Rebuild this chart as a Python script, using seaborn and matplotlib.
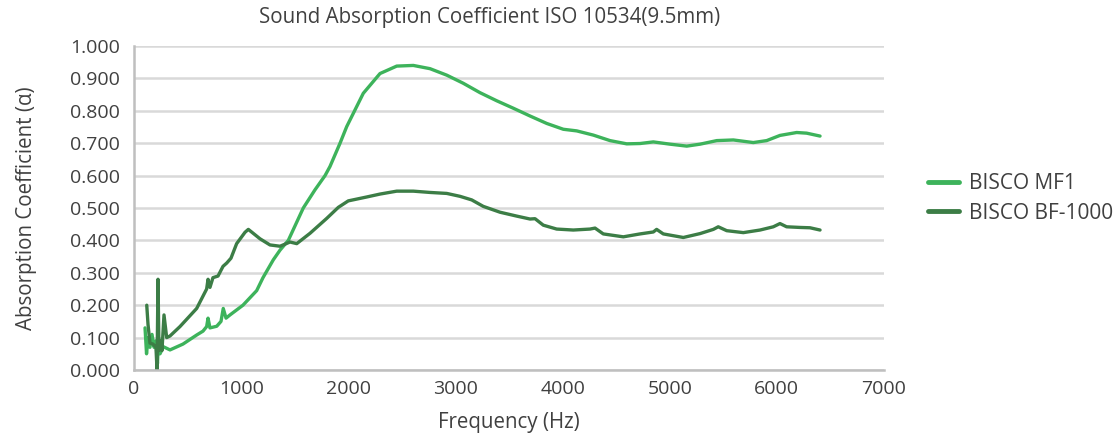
import numpy as np
import pandas as pd
import matplotlib
matplotlib.use("Agg")
import matplotlib.pyplot as plt
import seaborn as sns

# ---- data ----
mf1_freq = [103, 117, 131, 149, 168, 187, 205, 219, 229, 243, 273, 336, 457, 585, 644, 678, 691, 709,
            772, 812, 833, 859, 896, 1017, 1145, 1204, 1300, 1363, 1440, 1580, 1689, 1783, 1829, 1923,
            1985, 2140, 2296, 2452, 2607, 2763, 2919, 3073, 3229, 3385, 3540, 3696, 3852, 4007, 4132,
            4287, 4443, 4599, 4723, 4847, 5003, 5159, 5283, 5439, 5594, 5780, 5905, 6029, 6185, 6278, 6403]
mf1_alpha = [0.13, 0.05, 0.10, 0.07, 0.11, 0.07, 0.09, 0.02, 0.10, 0.05, 0.072, 0.062, 0.08, 0.108, 0.12,
             0.134, 0.16, 0.13, 0.135, 0.15, 0.19, 0.16, 0.17, 0.20, 0.245, 0.285, 0.34, 0.37, 0.40, 0.50,
             0.556, 0.60, 0.628, 0.70, 0.751, 0.854, 0.915, 0.938, 0.94, 0.93, 0.91, 0.885, 0.856, 0.831,
             0.808, 0.784, 0.761, 0.743, 0.738, 0.725, 0.708, 0.698, 0.699, 0.704, 0.697, 0.691, 0.697,
             0.708, 0.71, 0.702, 0.708, 0.724, 0.733, 0.731, 0.722]

bf_freq = [119, 131, 149, 177, 205, 215, 224, 233, 252, 261, 280, 305, 336, 429, 585, 678, 691, 709, 737,
           784, 831, 865, 905, 958, 1036, 1067, 1101, 1176, 1269, 1363, 1456, 1519, 1643, 1799, 1907, 2000,
           2172, 2296, 2452, 2607, 2763, 2919, 3043, 3152, 3260, 3416, 3572, 3696, 3743, 3820, 3945, 4100,
           4256, 4303, 4380, 4567, 4723, 4847, 4878, 4940, 5127, 5283, 5407, 5453, 5532, 5687, 5843, 5967,
           6029, 6091, 6216, 6309, 6403]
bf_alpha = [0.20, 0.14, 0.083, 0.08, 0.07, 0.0, 0.28, 0.06, 0.09, 0.06, 0.17, 0.10, 0.105, 0.134, 0.19,
            0.25, 0.28, 0.255, 0.285, 0.29, 0.32, 0.33, 0.345, 0.39, 0.425, 0.434, 0.425, 0.405, 0.386,
            0.382, 0.395, 0.39, 0.422, 0.468, 0.502, 0.522, 0.534, 0.543, 0.552, 0.552, 0.548, 0.545,
            0.536, 0.525, 0.505, 0.487, 0.475, 0.466, 0.467, 0.447, 0.435, 0.432, 0.435, 0.438, 0.42,
            0.411, 0.42, 0.426, 0.434, 0.42, 0.409, 0.421, 0.434, 0.442, 0.43, 0.424, 0.432, 0.442, 0.452,
            0.442, 0.44, 0.439, 0.432]

series_names = ["BISCO MF1", "BISCO BF-1000"]
colors = ["#3DB35B", "#3C7D46"]

title = "Sound Absorption Coefficient ISO 10534(9.5mm)"
x_label = "Frequency (Hz)"
y_label = "Absorption Coefficient (\u03b1)"
x_ticks = [0, 1000, 2000, 3000, 4000, 5000, 6000, 7000]
y_ticks = [0.0, 0.1, 0.2, 0.3, 0.4, 0.5, 0.6, 0.7, 0.8, 0.9, 1.0]

df = pd.concat([
    pd.DataFrame({"Frequency": mf1_freq, "Alpha": mf1_alpha, "Series": series_names[0]}),
    pd.DataFrame({"Frequency": bf_freq, "Alpha": bf_alpha, "Series": series_names[1]}),
], ignore_index=True)

sns.set_theme(style="white")
plt.rcParams["font.family"] = ["Open Sans", "DejaVu Sans"]
txt = "#404040"

fig = plt.figure(figsize=(11.18, 4.40), dpi=100)
ax = fig.add_axes([134 / 1118, 70 / 440, 750 / 1118, 324 / 440])

sns.lineplot(data=df, x="Frequency", y="Alpha", hue="Series", palette=colors,
             hue_order=series_names, linewidth=2.4, sort=False, estimator=None, ax=ax)

ax.set_xlim(0, 7000)
ax.set_ylim(0, 1.0)
ax.set_xticks(x_ticks)
ax.set_yticks(y_ticks)
ax.set_xticklabels([str(t) for t in x_ticks], fontsize=14, color=txt)
ax.set_yticklabels([f"{t:.3f}" for t in y_ticks], fontsize=14, color=txt)
ax.tick_params(axis="x", length=0, pad=7)
ax.tick_params(axis="y", length=0, pad=10)
ax.yaxis.grid(True, color="#d9d9d9", linewidth=1.8)
ax.xaxis.grid(False)
ax.set_axisbelow(True)
for s in ["top", "right"]:
    ax.spines[s].set_visible(False)
for s in ["left", "bottom"]:
    ax.spines[s].set_color("#bfbfbf")
    ax.spines[s].set_linewidth(1.8)

ax.set_xlabel(x_label, fontsize=14.8, color=txt, labelpad=10)
ax.set_ylabel(y_label, fontsize=14.8, color=txt, labelpad=24)
fig.text(490 / 1118, 1 - 18 / 440, title, ha="center", va="center", fontsize=14.8, color=txt)

leg = ax.legend(loc="center left", bbox_to_anchor=(920 / 1118, 1 - 198.5 / 440),
                bbox_transform=fig.transFigure, borderaxespad=0, frameon=False, fontsize=15,
                handlelength=1.45, handletextpad=0.5, labelspacing=0.4)
for t in leg.get_texts():
    t.set_color(txt)
for h in leg.get_lines():
    h.set_linewidth(3.5)
    h.set_solid_capstyle("round")

fig.savefig("out.png", dpi=100)
